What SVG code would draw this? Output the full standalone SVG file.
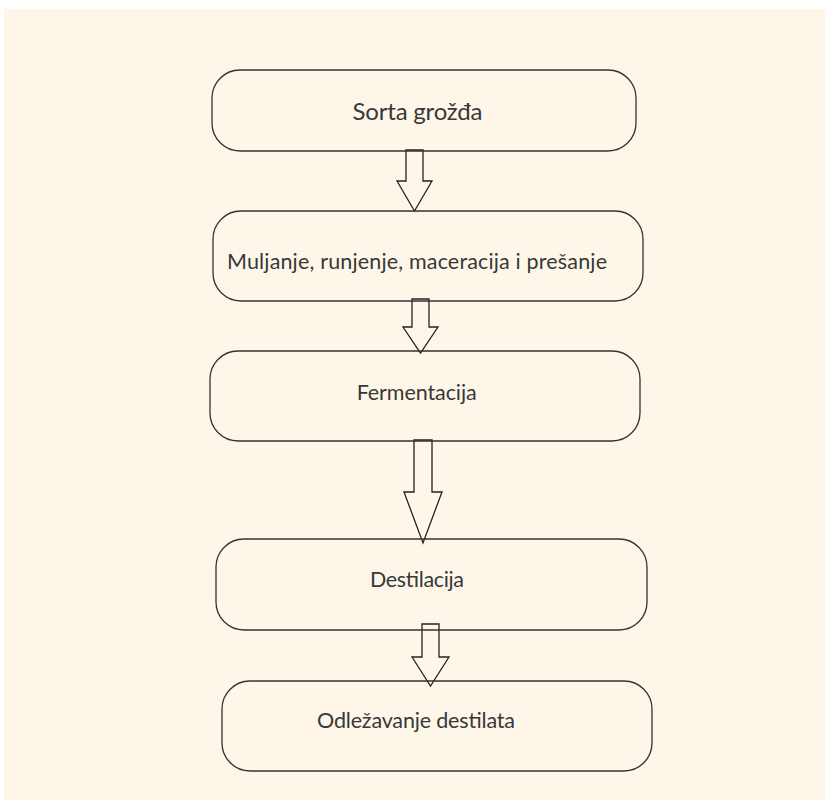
<svg xmlns="http://www.w3.org/2000/svg" width="825" height="800" viewBox="0 0 825 800">
<style>
.box{fill:none;stroke:#333;stroke-width:1.3}
.arr{fill:none;stroke:#222;stroke-width:1.3;stroke-linejoin:miter}
.t{font-family:Lato,"Open Sans","Liberation Sans",sans-serif;fill:#383838;font-size:21.5px}
.big{font-size:24px}
</style>
<rect x="0" y="0" width="825" height="800" fill="#ffffff"/>
<rect x="4" y="9" width="821" height="791" fill="#fef7e9"/>
<g id="connectors">
<polygon class="arr" points="406,150 423,150 423,181 432,181 414.5,211 397,181 406,181"/>
<polygon class="arr" points="412,299 429,299 429,327 438,327 420.5,353 403,327 412,327"/>
<polygon class="arr" points="414,440 432,440 432,492 442,492 423,543 404,492 414,492"/>
<polygon class="arr" points="422,624 439,624 439,657 449,657 430.5,686 412,657 422,657"/>
</g>
<g id="n1">
<rect class="box" x="212" y="70" width="424" height="81" rx="28" ry="28"/>
<text class="t big" x="417.5" y="120" text-anchor="middle" textLength="130">Sorta grožđa</text>
</g>
<g id="n2">
<rect class="box" x="213" y="211" width="430" height="90" rx="28" ry="28"/>
<text class="t" x="417" y="269" text-anchor="middle" textLength="380">Muljanje, runjenje, maceracija i prešanje</text>
</g>
<g id="n3">
<rect class="box" x="210" y="351" width="430" height="90" rx="28" ry="28"/>
<text class="t" x="416.7" y="400" text-anchor="middle" textLength="120">Fermentacija</text>
</g>
<g id="n4">
<rect class="box" x="216" y="539" width="431" height="91" rx="28" ry="28"/>
<text class="t" x="417" y="587" text-anchor="middle" textLength="94">Destilacija</text>
</g>
<g id="n5">
<rect class="box" x="222" y="681" width="430" height="90" rx="28" ry="28"/>
<text class="t" x="416" y="728" text-anchor="middle" textLength="198">Odležavanje destilata</text>
</g>
</svg>
